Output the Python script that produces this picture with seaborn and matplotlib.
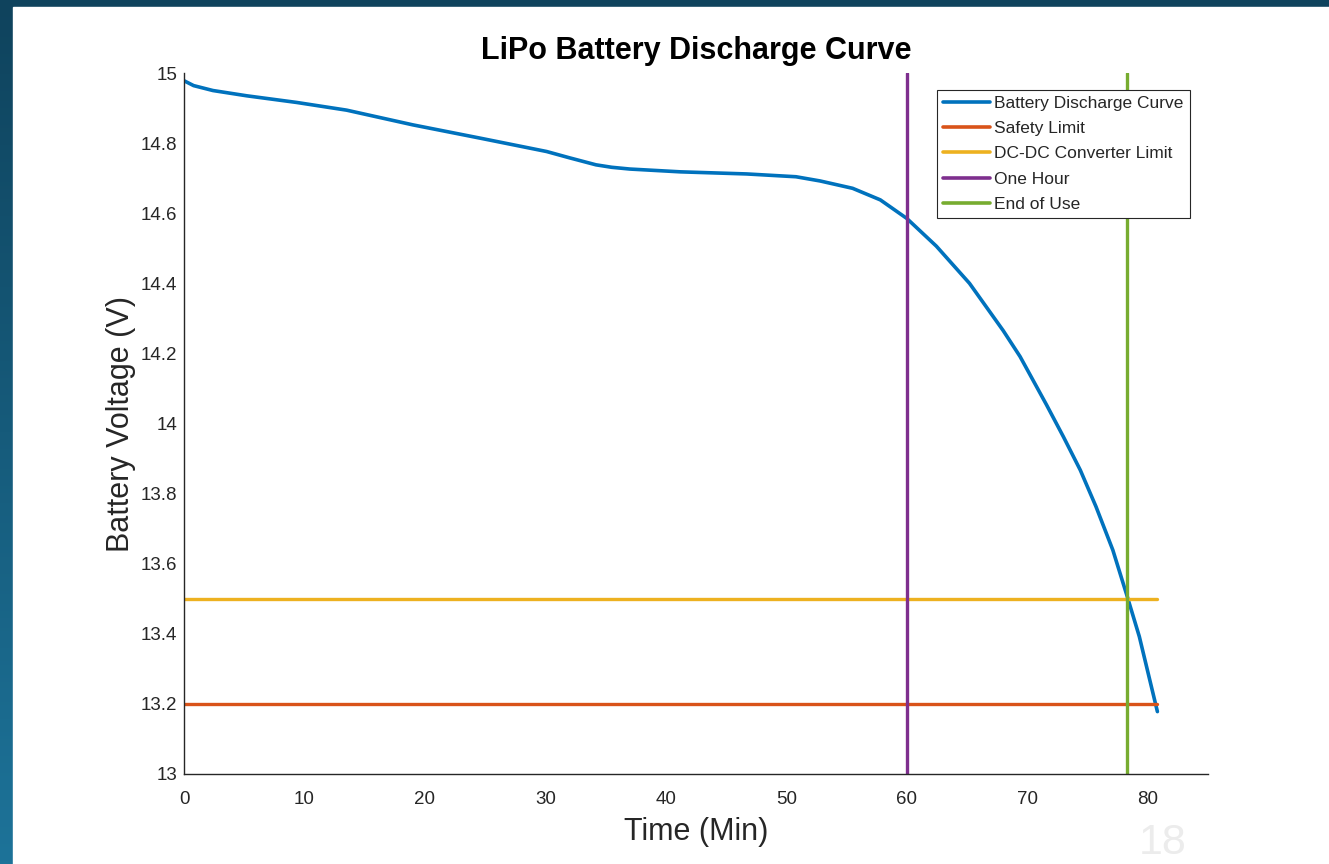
import numpy as np
import matplotlib
matplotlib.use("Agg")
import matplotlib.pyplot as plt
import seaborn as sns
import pandas as pd
from matplotlib.patches import Rectangle

# discharge curve (time in minutes, voltage in volts)
time_min = [0, 0.8, 2.4, 5.2, 9.35, 13.5, 19.0, 24.6, 30.1, 32.0, 34.2, 35.5,
            37.0, 41.2, 46.7, 50.8, 52.8, 55.5, 57.8, 60.0, 62.45, 65.2, 68.0,
            69.4, 71.6, 73.0, 74.4, 75.7, 77.1, 78.3, 79.3, 80.8]
voltage = [14.978, 14.964, 14.950, 14.935, 14.916, 14.894, 14.852, 14.814, 14.776,
           14.758, 14.738, 14.731, 14.726, 14.718, 14.712, 14.704, 14.692, 14.671,
           14.638, 14.585, 14.506, 14.400, 14.265, 14.191, 14.053, 13.962, 13.867,
           13.763, 13.639, 13.506, 13.392, 13.178]

# reference lines
limit_span = [0, 80.8]
safety_limit = 13.2
converter_limit = 13.5
one_hour = 60
end_of_use = 78.3
y_span = [13, 15]

labels = ["Battery Discharge Curve", "Safety Limit", "DC-DC Converter Limit",
          "One Hour", "End of Use"]
colors = ["#0072BD", "#D95319", "#EDB120", "#7E2F8E", "#77AC30"]

sns.set_style("white")
plt.rcParams["font.family"] = ["Liberation Sans", "DejaVu Sans"]

fig = plt.figure(figsize=(13.29, 8.64), dpi=100)

# slide background: blue gradient frame with white content area
bg = fig.add_axes([0, 0, 1, 1], zorder=-10)
grad = np.linspace(0, 1, 256).reshape(-1, 1)
bg.imshow(grad, aspect="auto", extent=[0, 1, 0, 1], origin="upper",
          cmap=matplotlib.colors.LinearSegmentedColormap.from_list(
              "slide", ["#0f435d", "#1d7399"]))
bg.add_patch(Rectangle((13 / 1329, 0), 1, 1 - 7 / 864, color="white"))
bg.set_xlim(0, 1)
bg.set_ylim(0, 1)
bg.axis("off")

ax = fig.add_axes([184 / 1329, 1 - 774 / 864, 1024 / 1329, 701 / 864])
ax.set_facecolor("white")

curve = pd.DataFrame({"t": time_min, "v": voltage})
sns.lineplot(data=curve, x="t", y="v", ax=ax, color=colors[0], lw=2.6,
             sort=False, estimator=None, label=labels[0])
sns.lineplot(x=limit_span, y=[safety_limit] * 2, ax=ax, color=colors[1], lw=2.4,
             estimator=None, label=labels[1])
sns.lineplot(x=limit_span, y=[converter_limit] * 2, ax=ax, color=colors[2], lw=2.4,
             estimator=None, label=labels[2])
sns.lineplot(x=[one_hour] * 2, y=y_span, ax=ax, color=colors[3], lw=2.4,
             sort=False, estimator=None, label=labels[3])
sns.lineplot(x=[end_of_use] * 2, y=y_span, ax=ax, color=colors[4], lw=2.4,
             sort=False, estimator=None, label=labels[4])

ax.set_xlim(0, 85)
ax.set_ylim(13, 15)
ax.set_xticks(range(0, 81, 10))
ax.set_yticks([13, 13.2, 13.4, 13.6, 13.8, 14, 14.2, 14.4, 14.6, 14.8, 15])
ax.set_yticklabels(["13", "13.2", "13.4", "13.6", "13.8", "14", "14.2", "14.4",
                    "14.6", "14.8", "15"])

for side in ["top", "right"]:
    ax.spines[side].set_visible(False)
for side in ["left", "bottom"]:
    ax.spines[side].set_color("#262626")
    ax.spines[side].set_linewidth(1.0)
ax.tick_params(direction="in", length=5, width=1, colors="#262626",
               labelsize=13.5)
ax.tick_params(axis="x", pad=12)
ax.tick_params(axis="y", pad=5)

ax.set_title("LiPo Battery Discharge Curve", fontsize=22, fontweight="bold",
             color="black", pad=10)
ax.set_xlabel("Time (Min)", fontsize=22, color="#262626", labelpad=7)
ax.set_ylabel("Battery Voltage (V)", fontsize=22, color="#262626", labelpad=3)

leg = ax.legend(loc="upper right", bbox_to_anchor=(0.982, 0.976), fontsize=12.5,
                frameon=True, fancybox=False, framealpha=1, handlelength=2.7,
                handletextpad=0.25, borderpad=0.35, labelspacing=0.58,
                borderaxespad=0)
leg.get_frame().set_edgecolor("#262626")
leg.get_frame().set_linewidth(0.8)
for line in leg.get_lines():
    line.set_linewidth(2.6)

fig.text(1163 / 1329, 1 - 843 / 864, "18", fontsize=31, color="#ececec",
         ha="center", va="center")

fig.savefig("out.png", dpi=100)
